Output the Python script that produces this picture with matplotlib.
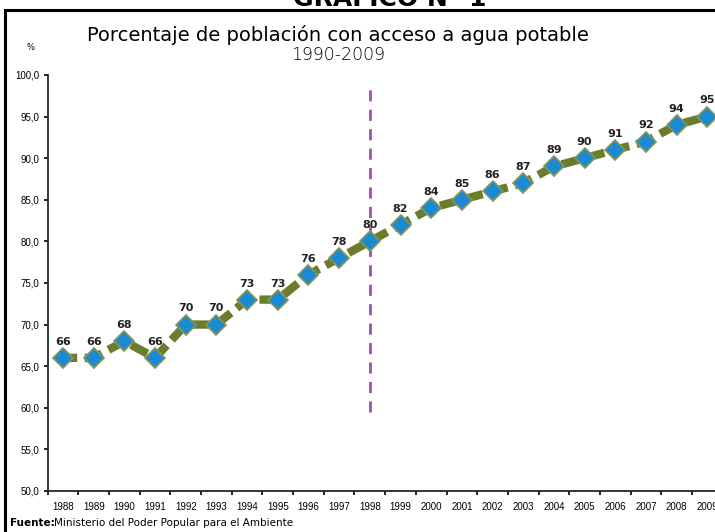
import matplotlib
matplotlib.use("Agg")
import matplotlib.pyplot as plt
from matplotlib.patches import Rectangle

years = [str(y) for y in range(1988, 2010)]
values = [66, 66, 68, 66, 70, 70, 73, 73, 76, 78, 80, 82, 84, 85, 86, 87,
          89, 90, 91, 92, 94, 95]
yticks = [50, 55, 60, 65, 70, 75, 80, 85, 90, 95, 100]
mark_year = "1998"
mark_span = (59.5, 98.8)

fig = plt.figure(figsize=(7.15, 5.32), dpi=100)
ax = fig.add_axes([0.0667, 0.0771, 0.944, 0.782])

x = list(range(len(years)))
ax.plot(x, values, color="#6b7d2c", lw=6, ls=(0.5, (2.2, 0.9)),
        solid_capstyle="butt", dash_capstyle="butt", zorder=2)
ax.plot(x, values, ls="none", marker="D", ms=10, mfc="#1a8bd3",
        mec="#8a9455", mew=1.2, zorder=3)
for xi, v in zip(x, values):
    ax.annotate(str(v), (xi, v), xytext=(0, 8), textcoords="offset points",
                ha="center", va="bottom", fontsize=8, fontweight="bold",
                color="#222222")

xm = years.index(mark_year)
ax.vlines(xm, *mark_span, colors="#9b50b8", lw=2, ls=(0, (4, 3)), zorder=1)

ax.set_xlim(-0.5, len(years) - 0.5)
ax.set_ylim(50, 100)
ax.set_yticks(yticks)
ax.set_yticklabels([f"{t:.1f}".replace(".", ",") for t in yticks],
                   fontsize=7, family="Liberation Sans")
ax.set_xticks(x)
ax.set_xticklabels(years, fontsize=7, family="Liberation Sans")
ax.set_xticks([i - 0.5 for i in range(len(years) + 1)], minor=True)
ax.tick_params(axis="x", which="major", length=0, pad=8)
ax.tick_params(axis="x", which="minor", length=3, width=1.2)
ax.tick_params(axis="y", length=3, width=1.2, pad=3)
for s in ["top", "right"]:
    ax.spines[s].set_visible(False)
for s in ["left", "bottom"]:
    ax.spines[s].set_linewidth(1.3)
    ax.spines[s].set_color("#1f2a2a")

fig.text(0.473, 0.935, "Porcentaje de población con acceso a agua potable",
         ha="center", va="center", fontsize=14, color="#000000")
fig.text(0.473, 0.897, "1990-2009", ha="center", va="center", fontsize=12.5,
         fontweight="light", color="#000000")
fig.text(0.042, 0.91, "%", ha="center", va="center", fontsize=6)
fig.text(0.545, 0.989, "GRAFICO N° 1", ha="center", va="baseline",
         fontsize=18, fontweight="bold")
fig.text(0.014, 0.017, "Fuente:", ha="left", va="center", fontsize=7.5,
         fontweight="bold")
fig.text(0.076, 0.017, "Ministerio del Poder Popular para el Ambiente",
         ha="left", va="center", fontsize=7.5)

fig.patches.append(Rectangle((0.007, -0.1), 1.1, 1.081, transform=fig.transFigure,
                             fill=False, lw=2.2, ec="black"))

fig.savefig("out.png", dpi=100)
